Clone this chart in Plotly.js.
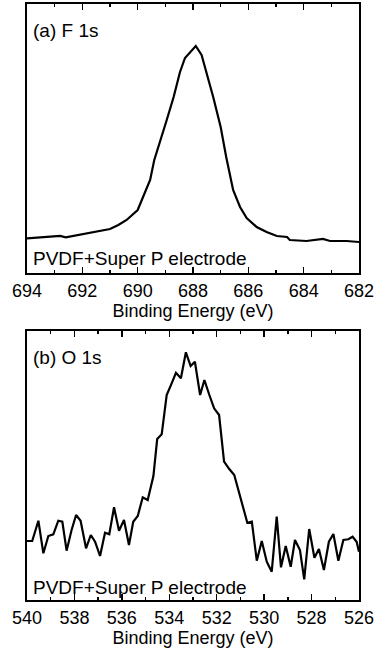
<!DOCTYPE html>
<html><head><meta charset="utf-8">
<script src="https://cdn.plot.ly/plotly-3.0.1.min.js"></script>
<style>html,body{margin:0;padding:0;background:#fff}#chart{width:375px;height:649px}</style>
</head><body><div id="chart"></div>
<script>
const f1sEnergy = [694.0, 693.5, 692.8, 692.6, 692.0, 691.4, 691.0, 690.7, 690.4, 690.0, 689.8, 689.55, 689.4, 689.13, 688.95, 688.7, 688.47, 688.29, 687.9, 687.69, 687.5, 687.27, 687.0, 686.8, 686.55, 686.3, 686.06, 685.7, 685.34, 684.97, 684.6, 684.5, 683.9, 683.3, 683.05, 682.45, 682.0];
const f1sIntensity = [34.7, 35.5, 37, 35.7, 39, 42, 44, 48, 53, 63, 76, 93, 113, 136, 153, 176, 201, 215, 227, 218, 200, 176, 146, 116, 83, 66, 55, 46, 41, 37, 36, 33, 32, 34, 32, 32, 31];

const o1sEnergy = [540.0, 539.78, 539.52, 539.31, 539.10, 538.89, 538.68, 538.51, 538.33, 538.12, 537.93, 537.74, 537.51, 537.31, 537.13, 536.92, 536.71, 536.53, 536.33, 536.12, 535.91, 535.70, 535.52, 535.33, 535.12, 534.91, 534.67, 534.51, 534.32, 534.11, 533.90, 533.72, 533.51, 533.30, 533.10, 532.92, 532.70, 532.52, 532.31, 532.11, 531.90, 531.69, 531.47, 531.26, 530.71, 530.52, 530.31, 530.10, 529.89, 529.68, 529.47, 529.29, 529.09, 528.88, 528.70, 528.49, 528.31, 528.10, 527.88, 527.69, 527.48, 527.27, 527.08, 526.87, 526.66, 526.45, 526.27, 526.10, 526.0];
const o1sIntensity = [59, 59, 79.3, 46.7, 64, 65.7, 79.3, 78.3, 49.3, 70, 85, 79.3, 51.7, 65, 58.3, 44, 67.3, 65.7, 92.7, 69.3, 80, 55, 78.3, 84, 102.7, 100, 124, 161, 165.7, 205, 216.7, 227.3, 221.7, 247.7, 234, 238.3, 205, 220, 205, 191.7, 185, 138.3, 131, 125, 77.3, 78.3, 39.3, 59, 38.3, 28.3, 83.3, 32.7, 54, 33.3, 60, 50, 20.7, 71, 42.3, 51, 30, 58.3, 66, 39.3, 60, 60.7, 63.3, 58.3, 48.3];

const f1sTicks = [694, 692, 690, 688, 686, 684, 682];
const o1sTicks = [540, 538, 536, 534, 532, 530, 528, 526];
const panelLabels = ['(a) F 1s', '(b) O 1s'];
const sampleLabel = 'PVDF+Super P electrode';
const xTitle = 'Binding Energy (eV)';

const FONT = 'Arial, "Liberation Sans", sans-serif';
const lineStyle = {color: '#000', width: 2.2};

const traces = [
  {x: f1sEnergy, y: f1sIntensity, xaxis: 'x', yaxis: 'y', mode: 'lines', line: lineStyle, hoverinfo: 'skip'},
  {x: o1sEnergy, y: o1sIntensity, xaxis: 'x2', yaxis: 'y2', mode: 'lines', line: lineStyle, hoverinfo: 'skip'}
];

function xAxis(range, ticks, anchor) {
  return {
    anchor: anchor, domain: [0, 1], range: range,
    tickmode: 'array', tickvals: ticks, ticktext: ticks.map(String),
    ticks: 'inside', ticklen: 6, tickwidth: 1.5, tickcolor: '#000',
    minor: {tickmode: 'linear', tick0: 0, dtick: 1, ticks: 'inside', ticklen: 3, tickwidth: 1.5, tickcolor: '#000'},
    showline: true, linewidth: 2, linecolor: '#000', mirror: 'ticks',
    showgrid: false, zeroline: false,
    tickfont: {family: FONT, size: 18, color: '#000'},
    title: {text: xTitle, font: {family: FONT, size: 18, color: '#000'}, standoff: 3},
    automargin: false
  };
}
function yAxis(domain, anchor) {
  return {
    anchor: anchor, domain: domain, range: [0, 269],
    showticklabels: false, ticks: '',
    showline: true, linewidth: 2, linecolor: '#000', mirror: true,
    showgrid: false, zeroline: false, automargin: false
  };
}

const annFont = {family: FONT, size: 19, color: '#000'};
const layout = {
  width: 375, height: 649,
  margin: {l: 27, r: 16, t: 4, b: 49},
  paper_bgcolor: '#fff', plot_bgcolor: '#fff',
  showlegend: false,
  xaxis: xAxis([694, 682], f1sTicks, 'y'),
  yaxis: yAxis([0.5487, 1], 'x'),
  xaxis2: xAxis([540, 526], o1sTicks, 'y2'),
  yaxis2: yAxis([0, 0.4513], 'x2'),
  annotations: [
    {xref: 'x domain', yref: 'y domain', x: 0.012, y: 0.903, xanchor: 'left', yanchor: 'middle', text: panelLabels[0], showarrow: false, font: annFont},
    {xref: 'x domain', yref: 'y domain', x: 0.012, y: 0.052, xanchor: 'left', yanchor: 'middle', text: sampleLabel, showarrow: false, font: annFont},
    {xref: 'x2 domain', yref: 'y2 domain', x: 0.012, y: 0.9, xanchor: 'left', yanchor: 'middle', text: panelLabels[1], showarrow: false, font: annFont},
    {xref: 'x2 domain', yref: 'y2 domain', x: 0.012, y: 0.048, xanchor: 'left', yanchor: 'middle', text: sampleLabel, showarrow: false, font: annFont}
  ]
};

Plotly.newPlot('chart', traces, layout, {staticPlot: true, displayModeBar: false});
</script>
</body></html>
